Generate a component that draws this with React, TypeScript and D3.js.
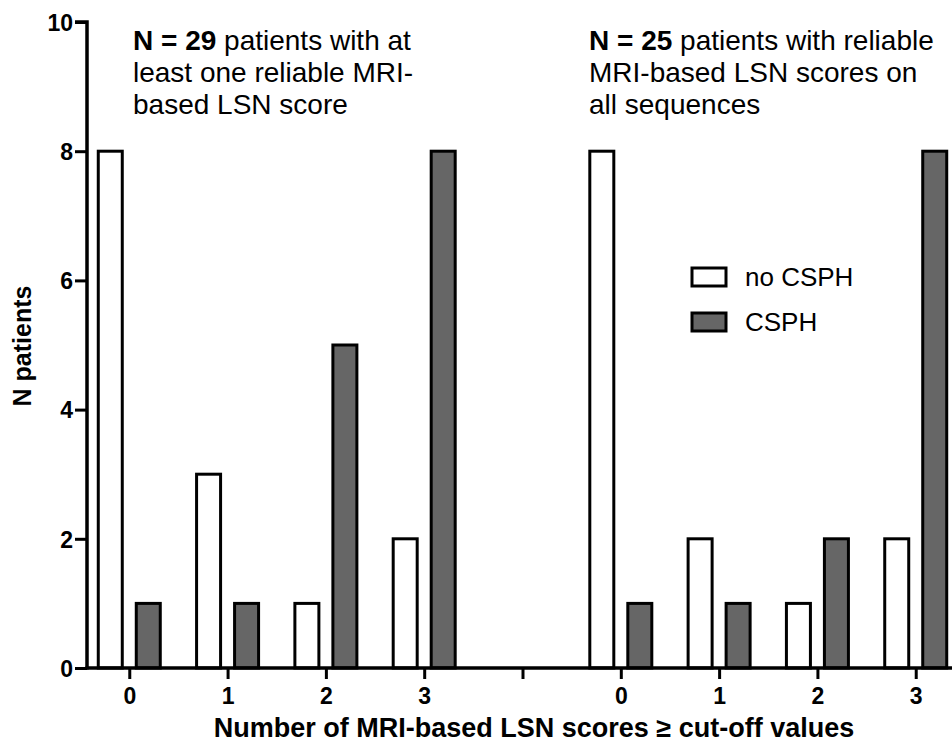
import React, { useEffect, useRef } from 'react';
import * as d3 from 'd3';

// category positions on the x axis (4 is the empty gap between the two panels)
const positions = [0, 1, 2, 3, 5, 6, 7, 8];
const tickPositions = [0, 1, 2, 3, 4, 5, 6, 7, 8];
const tickLabels = ['0', '1', '2', '3', '', '0', '1', '2', '3'];
const series = ['no CSPH', 'CSPH'];
const noCsph = [8, 3, 1, 2, 8, 2, 1, 2];
const csph = [1, 1, 5, 8, 1, 1, 2, 8];
const yTicks = [0, 2, 4, 6, 8, 10];

const FONT = '"Liberation Sans", Arial, Helvetica, sans-serif';

export default function App() {
  const ref = useRef<SVGSVGElement>(null);

  useEffect(() => {
    const width = 952;
    const svg = d3.select(ref.current);
    svg.selectAll('*').remove();

    const x = d3.scaleLinear().domain([-0.43, 8.43]).range([87, 958]);
    const y = d3.scaleLinear().domain([0, 10]).range([668, 22]);
    const offset = d3.scalePoint<string>().domain(series).range([-19, 19]);
    const barW = 24;
    const colors: Record<string, string> = { 'no CSPH': '#ffffff', 'CSPH': '#666666' };

    const g = svg.append('g');

    // bars
    const rows = [noCsph, csph];
    series.forEach((s, si) => {
      g.selectAll('rect.b' + si)
        .data(positions.map((p, i) => ({ p, v: rows[si][i] })))
        .enter()
        .append('rect')
        .attr('x', d => x(d.p) + (offset(s) as number) - barW / 2)
        .attr('y', d => y(d.v))
        .attr('width', barW)
        .attr('height', d => y(0) - y(d.v))
        .attr('fill', colors[s])
        .attr('stroke', '#000')
        .attr('stroke-width', 3);
    });

    // y axis
    const yAxis = d3.axisLeft(y).tickValues(yTicks).tickSize(12).tickPadding(2);
    const ya = g.append('g').attr('transform', `translate(${x(-0.43)},0)`).call(yAxis);
    ya.select('.domain').attr('stroke-width', 3.5).attr('d', `M0,${y(0) + 1.5}V${y(10)}H-12`);
    ya.selectAll('.tick line').attr('stroke-width', 3);
    ya.selectAll('.tick text')
      .style('font-family', FONT)
      .style('font-size', '23px')
      .style('font-weight', 'bold')
      .attr('dy', '0.36em');

    // x axis
    const xAxis = d3.axisBottom(x)
      .tickValues(tickPositions)
      .tickSize(11)
      .tickPadding(9)
      .tickFormat((d, i) => tickLabels[i]);
    const xa = g.append('g').attr('transform', `translate(0,${y(0)})`).call(xAxis);
    xa.select('.domain').attr('stroke-width', 3.5).attr('d', `M${x(-0.43) - 1.5},0H${width + 10}`);
    xa.selectAll('.tick line').attr('stroke-width', 3);
    xa.selectAll('.tick text')
      .style('font-family', FONT)
      .style('font-size', '23px')
      .style('font-weight', 'bold');

    // axis titles
    svg.append('text')
      .attr('x', 534)
      .attr('y', 737)
      .attr('text-anchor', 'middle')
      .style('font-family', FONT)
      .style('font-size', '27px')
      .style('font-weight', 'bold')
      .text('Number of MRI-based LSN scores \u2265 cut-off values');

    svg.append('text')
      .attr('transform', 'translate(31,346) rotate(-90)')
      .attr('text-anchor', 'middle')
      .style('font-family', FONT)
      .style('font-size', '25px')
      .style('font-weight', 'bold')
      .text('N patients');

    // panel annotations
    const notes = [
      { x: 133, bold: 'N = 29', lines: [' patients with at', 'least one reliable MRI-', 'based LSN score'] },
      { x: 589, bold: 'N = 25', lines: [' patients with reliable', 'MRI-based LSN scores on', 'all sequences'] },
    ];
    notes.forEach(n => {
      const t = svg.append('text')
        .attr('x', n.x)
        .attr('y', 50)
        .style('font-family', FONT)
        .style('font-size', '28px');
      t.append('tspan').style('font-weight', 'bold').text(n.bold);
      t.append('tspan').text(n.lines[0]);
      n.lines.slice(1).forEach((l, i) => {
        t.append('tspan').attr('x', n.x).attr('y', 50 + 32 * (i + 1)).text(l);
      });
    });

    // legend
    const legend = svg.append('g').attr('transform', 'translate(692,268)');
    series.forEach((s, i) => {
      legend.append('rect')
        .attr('x', 0)
        .attr('y', i * 45)
        .attr('width', 34)
        .attr('height', 18)
        .attr('fill', colors[s])
        .attr('stroke', '#000')
        .attr('stroke-width', 3);
      legend.append('text')
        .attr('x', 53)
        .attr('y', i * 45 + 18)
        .style('font-family', FONT)
        .style('font-size', '26px')
        .text(s);
    });
  }, []);

  return (
    <svg
      ref={ref}
      width={952}
      height={744}
      style={{ position: 'absolute', left: 0, top: 0, background: '#fff' }}
    />
  );
}
